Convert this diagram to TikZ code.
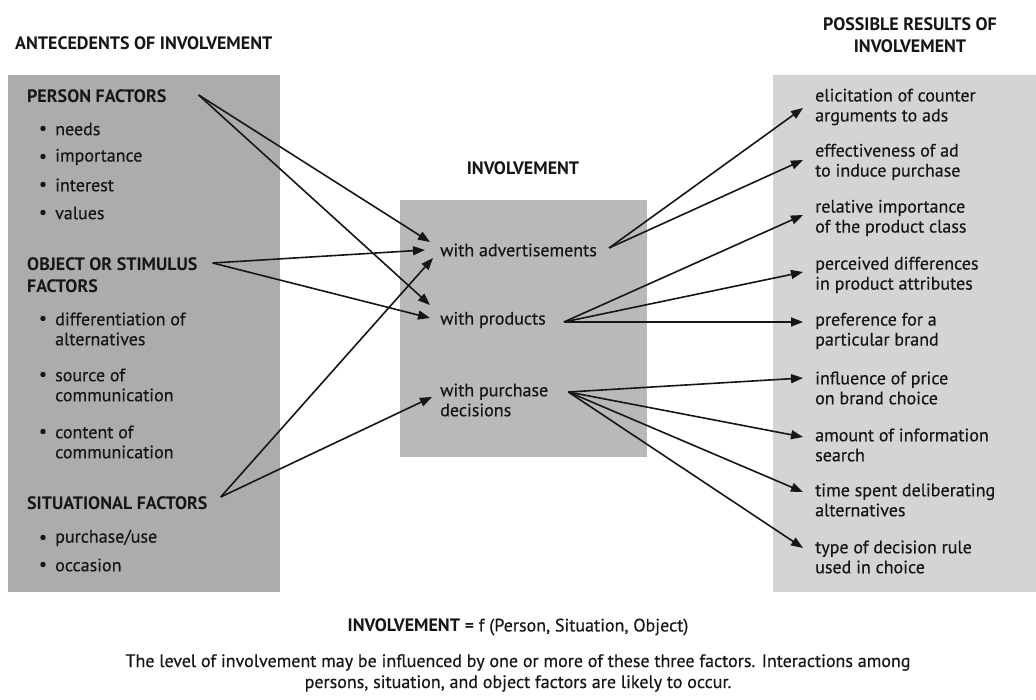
\documentclass[tikz,border=0pt]{standalone}
\usepackage{fontspec}
\setmainfont{PT Sans}[UprightFeatures={FakeBold=0.4}]
\usetikzlibrary{arrows.meta}
\definecolor{ink}{HTML}{161616}
\definecolor{leftfill}{HTML}{ACACAC}
\definecolor{midfill}{HTML}{B9B9B9}
\definecolor{rightfill}{HTML}{D4D4D4}
\begin{document}
\begin{tikzpicture}[x=1pt,y=-1pt,
  txt/.style={anchor=west, inner sep=0pt, align=left, text=ink,
              font=\fontsize{18}{20}\selectfont},
  hd/.style={txt, font=\fontsize{18}{22}\selectfont\bfseries},
  bul/.style={inner sep=0pt, text=ink, font=\fontsize{18}{18}\selectfont},
  arr/.style={draw=ink, line width=1.6pt,
              -{Triangle[length=12pt,width=9pt]}},
]
\useasboundingbox (0,0) rectangle (1036,700);

% panels
\fill[leftfill]  (8,75)    rectangle (280,592);
\fill[midfill]   (400,200) rectangle (647,457);
\fill[rightfill] (773,75)  rectangle (1036,592);

% headings
\node[hd] (tleft) at (15,43) {ANTECEDENTS OF INVOLVEMENT};
\node[hd, anchor=center] (tmid) at (523,168) {INVOLVEMENT};
\node[hd, anchor=center, align=center] (tright) at (910,35)
  {POSSIBLE RESULTS OF\\INVOLVEMENT};

% antecedents
\node[hd] (pf) at (27,96) {PERSON FACTORS};
\node[bul] (b1) at (43,130) {\textbullet};
\node[txt] (needs) at (55,129) {needs};
\node[bul] (b2) at (43,158) {\textbullet};
\node[txt] (impo) at (55,157) {importance};
\node[bul] (b3) at (43,186) {\textbullet};
\node[txt] (inter) at (55,185) {interest};
\node[bul] (b4) at (43,214) {\textbullet};
\node[txt] (vals) at (55,213) {values};

\node[hd] (of) at (27,275) {OBJECT OR STIMULUS\\FACTORS};
\node[bul] (b5) at (43,320) {\textbullet};
\node[txt] (diff) at (55,329) {differentiation of\\alternatives};
\node[bul] (b6) at (43,376) {\textbullet};
\node[txt] (src) at (55,385) {source of\\communication};
\node[bul] (b7) at (43,433) {\textbullet};
\node[txt] (cont) at (55,442) {content of\\communication};

\node[hd] (sf) at (27,503) {SITUATIONAL FACTORS};
\node[bul] (b8) at (43,539) {\textbullet};
\node[txt] (puse) at (55,538) {purchase/use};
\node[bul] (b9) at (43,566) {\textbullet};
\node[txt] (occ) at (55,565) {occasion};

% involvement
\node[txt] (wadv) at (440,250) {with advertisements};
\node[txt] (wprod) at (440,320) {with products};
\node[txt] (wpur) at (440,400) {with purchase\\decisions};

% results
\node[txt] (r1) at (815,107) {elicitation of counter\\arguments to ads};
\node[txt] (r2) at (815,162) {effectiveness of ad\\to induce purchase};
\node[txt] (r3) at (815,218) {relative importance\\of the product class};
\node[txt] (r4) at (815,275) {perceived differences\\in product attributes};
\node[txt] (r5) at (815,331) {preference for a\\particular brand};
\node[txt] (r6) at (815,388) {influence of price\\on brand choice};
\node[txt] (r7) at (815,445) {amount of information\\search};
\node[txt] (r8) at (815,500) {time spent deliberating\\alternatives};
\node[txt] (r9) at (815,557) {type of decision rule\\used in choice};

% footer
\node[txt, anchor=center] (formula) at (518,627)
  {\textbf{INVOLVEMENT} = f (Person, Situation, Object)};
\node[txt, anchor=center, align=center, font=\fontsize{18}{21}\selectfont]
  (note) at (518,673)
  {The level of involvement may be influenced by one or more of these three factors. Interactions among\\
   persons, situation, and object factors are likely to occur.};

% antecedents -> involvement
\draw[arr] ([shift={(32,-1)}]pf.east) -- ([shift={(-10,-8)}]wadv.west);
\draw[arr] ([shift={(32,-1)}]pf.east) -- ([shift={(-10,-15)}]wprod.west);
\draw[arr] ([shift={(15,-12)}]of.east) -- ([shift={(-15,0)}]wadv.west);
\draw[arr] ([shift={(15,-12)}]of.east) -- ([shift={(-10,-2)}]wprod.west);
\draw[arr] ([shift={(13,-6)}]sf.east) -- ([shift={(-7,8)}]wadv.west);
\draw[arr] ([shift={(13,-6)}]sf.east) -- ([shift={(-8,-3)}]wpur.west);

% involvement -> results
\draw[arr] ([shift={(12,-2)}]wadv.east) -- ([shift={(-12,1)}]r1.west);
\draw[arr] ([shift={(12,-2)}]wadv.east) -- ([shift={(-12,-2)}]r2.west);
\draw[arr] ([shift={(18,2)}]wprod.east) -- ([shift={(-12,-3)}]r3.west);
\draw[arr] ([shift={(18,2)}]wprod.east) -- ([shift={(-12,-3)}]r4.west);
\draw[arr] ([shift={(18,2)}]wprod.east) -- ([shift={(-12,-9)}]r5.west);
\draw[arr] ([shift={(20,-8)}]wpur.east) -- ([shift={(-12,-10)}]r6.west);
\draw[arr] ([shift={(20,-8)}]wpur.east) -- ([shift={(-12,-8)}]r7.west);
\draw[arr] ([shift={(20,-8)}]wpur.east) -- ([shift={(-12,-8)}]r8.west);
\draw[arr] ([shift={(20,-8)}]wpur.east) -- ([shift={(-12,-9)}]r9.west);
\end{tikzpicture}
\end{document}
